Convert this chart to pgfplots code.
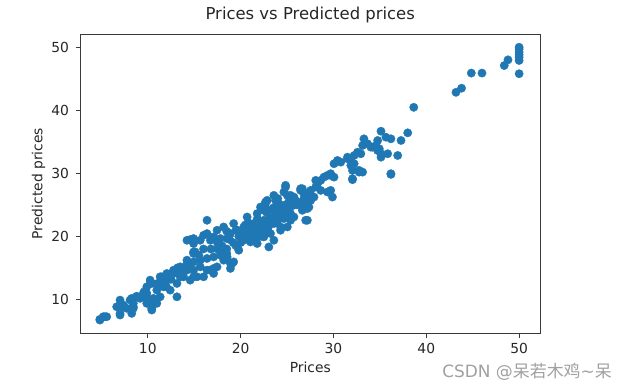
\documentclass[border=0pt]{standalone}
\usepackage{pgfplots}
\pgfplotsset{compat=1.18}
\usepackage{fontspec}
\setmainfont{DejaVu Sans}
\newfontfamily\cjk{Noto Sans CJK SC}
\definecolor{mplblue}{HTML}{1F77B4}
\definecolor{wm}{HTML}{A0A0A0}
\definecolor{spine}{HTML}{3A3A3A}
\definecolor{txt}{HTML}{262626}
\begin{document}
\begin{tikzpicture}
\useasboundingbox (-80.5bp,-57.7bp) rectangle (546.5bp,333.3bp);
\begin{axis}[
  scale only axis,
  width=459.5bp, height=299.3bp,
  xmin=2.75, xmax=52.25, ymin=4.62, ymax=52.1,
  xtick={10,20,30,40,50}, ytick={10,20,30,40,50},
  tick align=outside,
  major tick length=4.9bp,
  tick style={spine, line width=0.8bp},
  axis line style={spine, line width=0.8bp},
  axis lines*=box,
  xtick pos=bottom, ytick pos=left,
  /pgf/number format/assume math mode=true,
  ticklabel style={font=\fontsize{13.9}{16}\selectfont, inner sep=0pt, text=txt},
  xticklabel style={yshift=-4.6bp},
  yticklabel style={xshift=-6.5bp},
  title={Prices vs Predicted prices},
  title style={at={(axis description cs:0.5,1.030)}, anchor=base, font=\fontsize{16.5}{19}\selectfont, inner sep=0pt, text=txt},
  xlabel={Prices},
  xlabel style={at={(axis description cs:0.5,-0.1326)}, anchor=base, font=\fontsize{13.9}{16}\selectfont, inner sep=0pt, text=txt},
  ylabel={Predicted prices},
  ylabel style={at={(axis description cs:-0.0827,0.5)}, anchor=base, rotate=0, font=\fontsize{13.9}{16}\selectfont, inner sep=0pt, text=txt},
]
\addplot[only marks, color=mplblue, mark=*, mark size=4.2bp, mark options={solid, draw=mplblue, fill=mplblue, line width=0.3bp}] table {
x y
38.65 40.47
43.2 42.85
43.8 43.5
44.85 45.9
46.0 45.9
48.4 47.1
48.8 48.0
50 50.0
50 49.7
50 49.2
50 48.8
50 48.4
50 47.9
50 45.8
35.12 36.68
38.00 36.42
36.92 32.83
36.19 29.83
33.68 34.68
33.14 34.41
34.76 35.21
34.76 33.62
35.12 32.56
36.19 35.47
37.28 35.21
30.43 31.93
31.51 32.31
32.23 32.83
31.87 31.25
32.77 30.46
33.14 30.19
32.05 29.15
29.70 29.67
30.06 29.40
28.09 28.88
33.28 35.47
34.22 34.15
34.03 34.15
34.58 34.41
34.94 33.89
35.12 33.10
35.84 33.10
35.65 35.73
36.19 29.94
32.95 33.10
32.59 33.35
31.51 32.56
31.87 32.04
32.23 31.52
30.43 32.04
30.79 31.77
30.06 31.52
32.05 30.46
32.77 30.19
32.05 28.99
29.70 29.94
29.35 29.67
28.98 29.40
28.63 28.88
28.27 28.35
29.70 27.29
29.89 26.23
29.35 27.03
28.63 27.29
28.09 27.82
27.55 27.29
27.19 26.77
26.82 25.98
26.46 27.29
27.55 25.71
27.90 26.23
26.82 25.19
27.19 24.40
26.65 24.13
27.19 22.55
24.84 28.09
24.66 27.03
23.58 26.50
23.76 25.71
24.12 25.19
22.86 25.71
22.68 25.19
22.50 24.13
23.04 24.13
24.30 23.61
25.03 24.13
25.38 23.61
25.74 23.07
24.66 22.82
25.74 26.23
26.11 25.44
26.46 24.92
24.84 27.82
26.46 27.56
25.38 26.50
26.82 26.77
27.19 25.71
27.36 24.65
27.01 22.55
22.68 25.44
23.95 25.19
24.30 24.13
25.03 23.61
25.38 22.55
25.03 21.49
24.30 21.49
23.58 22.03
22.50 22.55
22.14 24.65
21.78 23.61
21.42 22.03
20.70 23.07
20.34 21.49
19.62 20.97
19.25 22.03
18.90 20.44
18.17 21.49
17.46 20.97
17.09 19.91
16.38 20.44
16.01 20.17
15.65 19.38
16.74 19.38
17.82 19.65
18.54 19.65
23.04 18.32
21.78 18.86
21.06 19.11
20.34 19.38
22.50 19.91
23.22 20.44
24.30 20.97
23.58 19.38
16.38 22.55
14.57 19.49
14.22 19.38
14.93 19.65
14.93 17.53
14.22 16.22
15.65 16.22
16.38 16.49
17.09 16.74
17.82 17.53
18.17 16.22
18.90 15.70
19.25 15.95
17.46 15.16
16.38 14.64
15.65 15.16
14.93 14.64
14.22 14.64
13.85 13.58
14.93 13.58
16.01 13.58
17.09 14.11
18.90 14.91
26.65 27.56
25.03 26.50
27.19 26.50
15.11 17.53
10.25 13.05
10.43 12.53
9.89 11.99
11.51 13.58
12.05 14.11
12.77 14.64
13.49 15.16
14.22 15.70
14.93 15.95
17.82 17.01
18.54 16.74
19.08 15.70
17.09 14.91
16.74 14.64
15.30 13.58
14.57 13.05
13.14 12.53
13.14 10.41
11.69 11.99
12.41 11.47
10.97 11.47
11.33 10.41
10.43 8.58
10.61 9.62
9.52 10.95
9.17 10.16
9.89 9.37
8.09 9.89
8.44 8.83
7.01 9.89
7.36 8.83
7.01 7.78
8.27 7.78
5.20 7.25
4.84 6.72
5.57 7.25
6.65 8.83
7.73 8.58
4.84 6.84
5.38 7.25
7.01 7.52
8.44 8.58
8.27 10.16
7.36 9.10
8.44 9.37
9.89 10.95
9.52 10.41
10.25 9.89
10.61 10.16
10.43 8.31
10.97 9.37
10.25 12.53
11.33 13.58
12.05 13.05
12.77 14.11
13.14 14.64
13.49 13.58
13.85 14.64
14.57 15.70
14.93 17.28
14.93 18.86
17.5 19.0
18.0 18.5
18.5 18.0
18.8 19.5
19.2 19.0
19.5 18.5
19.8 20.0
20.0 19.0
20.2 20.5
20.5 20.0
20.8 21.0
21.0 20.2
21.3 21.5
21.5 20.5
21.8 21.0
22.0 22.0
22.2 21.2
22.5 21.8
22.8 22.5
23.0 21.5
23.2 23.0
23.5 22.8
23.8 23.5
24.0 22.5
24.2 24.5
24.5 23.0
24.8 25.0
25.0 24.5
25.2 25.5
25.5 24.8
25.8 26.0
26.0 25.0
22.2 20.0
22.8 20.5
21.5 19.5
20.5 21.8
19.5 21.0
18.5 20.8
23.5 24.5
24.0 26.0
22.8 23.8
21.8 22.8
20.8 22.2
19.8 17.8
18.5 17.3
17.5 18.0
16.8 18.0
16.0 18.0
15.5 17.0
13.2 15.0
12.5 13.2
11.8 12.8
11.0 12.5
12.0 12.0
9.6 11.2
8.8 10.5
};
\end{axis}
\node[anchor=base east, inner sep=0pt, text=wm, font=\fontsize{17}{20}\selectfont] at (531.5bp,-44.5bp) {CSDN @{\cjk 呆若木鸡}\textasciitilde{\cjk 呆}};
\end{tikzpicture}
\end{document}
